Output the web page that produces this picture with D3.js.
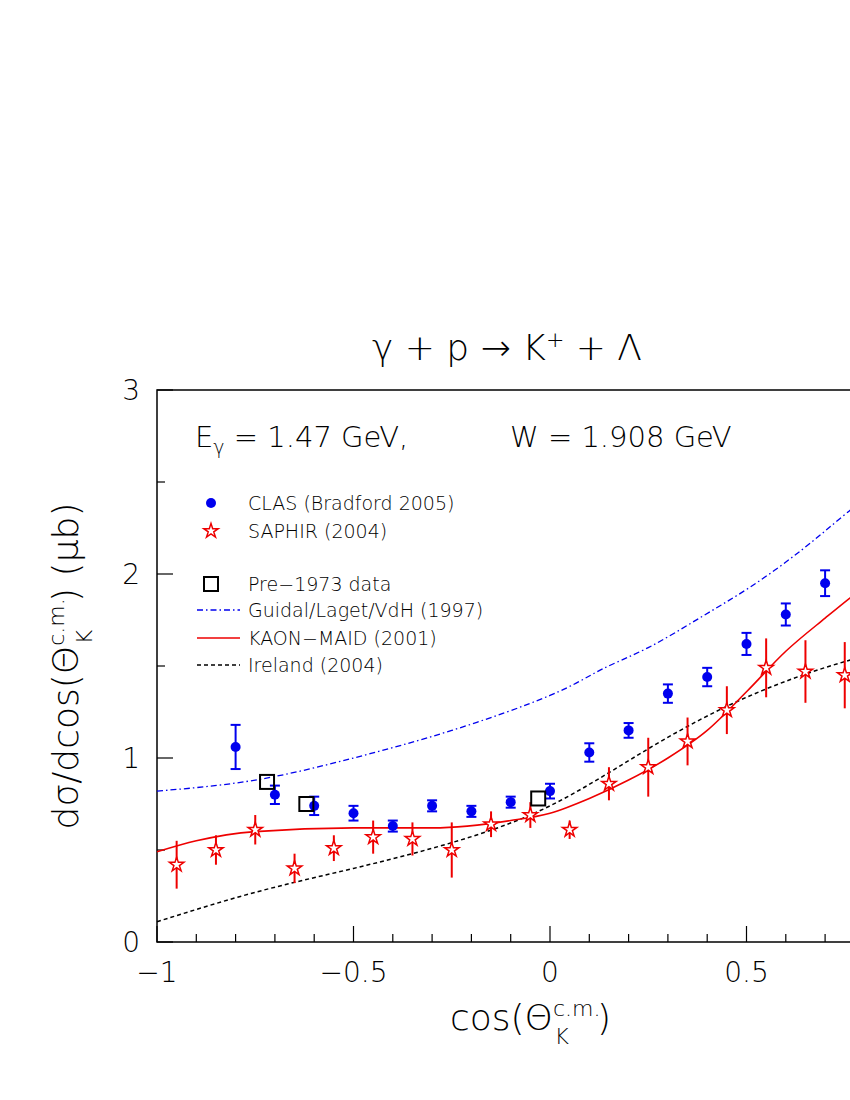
<!DOCTYPE html>
<html><head><meta charset="utf-8">
<script src="https://cdn.jsdelivr.net/npm/d3@7"></script>
<style>body{margin:0;background:#fff}text{font-family:"DejaVu Sans",sans-serif;font-weight:200}</style>
</head><body><svg id="c" width="850" height="1100"></svg>
<script>
const clasX=[-0.8,-0.7,-0.6,-0.5,-0.4,-0.3,-0.2,-0.1,0.0,0.1,0.2,0.3,0.4,0.5,0.6,0.7];
const clasY=[1.06,0.80,0.74,0.70,0.63,0.74,0.71,0.76,0.82,1.03,1.15,1.35,1.44,1.62,1.78,1.95];
const clasE=[0.12,0.05,0.05,0.04,0.03,0.03,0.03,0.03,0.04,0.05,0.04,0.05,0.05,0.06,0.06,0.07];
const saphX=[-0.95,-0.85,-0.75,-0.65,-0.55,-0.45,-0.35,-0.25,-0.15,-0.05,0.05,0.15,0.25,0.35,0.45,0.55,0.65,0.75];
const saphY=[0.42,0.50,0.61,0.40,0.51,0.57,0.56,0.50,0.64,0.69,0.61,0.86,0.95,1.09,1.26,1.49,1.47,1.45];
const saphE=[0.13,0.08,0.08,0.08,0.07,0.09,0.09,0.15,0.07,0.07,0.05,0.09,0.16,0.13,0.13,0.16,0.17,0.18];
const preX=[-0.72,-0.62,-0.03];
const preY=[0.87,0.75,0.78];
const guidX=[-1,-0.75,-0.5,-0.25,0,0.13,0.25,0.38,0.51,0.64,0.76,0.9];
const guidY=[0.82,0.88,1.0,1.15,1.34,1.48,1.60,1.76,1.93,2.13,2.34,2.58];
const maidX=[-1,-0.9,-0.75,-0.5,-0.3,-0.1,0,0.1,0.2,0.3,0.4,0.5,0.6,0.7,0.8,1];
const maidY=[0.49,0.55,0.6,0.62,0.62,0.66,0.70,0.78,0.88,1.0,1.15,1.36,1.58,1.76,1.93,2.2];
const irelX=[-1,-0.75,-0.5,-0.25,0,0.25,0.5,0.76,1];
const irelY=[0.11,0.27,0.40,0.54,0.74,1.05,1.33,1.53,1.65];
const xTicks=[-1,-0.5,0,0.5];
const yTicks=[0,1,2,3];

const svg=d3.select("#c");
const x=d3.scaleLinear().domain([-1,1]).range([157,943]);
const y=d3.scaleLinear().domain([0,3]).range([942,390]);
const g=svg.append("g");
g.append("rect").attr("x",157).attr("y",390).attr("width",786).attr("height",552).attr("fill","none").attr("stroke","#000").attr("stroke-width",1.5);
d3.range(-1,1.001,0.1).forEach(v=>{const L=Math.abs(v*2-Math.round(v*2))<1e-6?16:8;
 g.append("line").attr("x1",x(v)).attr("x2",x(v)).attr("y1",942).attr("y2",942-L).attr("stroke","#000").attr("stroke-width",1.2);});
d3.range(0,3.001,0.5).forEach(v=>{const L=Math.abs(v-Math.round(v))<1e-6?16:8;
 g.append("line").attr("x1",157).attr("x2",157+L).attr("y1",y(v)).attr("y2",y(v)).attr("stroke","#000").attr("stroke-width",1.2);});
xTicks.forEach(v=>g.append("text").attr("x",x(v)).attr("y",982).attr("text-anchor","middle").attr("font-size",28).text(v===0?"0":(v<0?"−"+Math.abs(v):v)));
yTicks.forEach(v=>g.append("text").attr("x",140).attr("y",y(v)+10).attr("text-anchor","end").attr("font-size",28).text(v));
const line=(X,Y)=>d3.line().curve(d3.curveNatural)(X.map((v,i)=>[x(v),y(Y[i])]));
const mline=(X,Y)=>d3.line().curve(d3.curveMonotoneX)(X.map((v,i)=>[x(v),y(Y[i])]));
g.append("path").attr("d",line(guidX,guidY)).attr("fill","none").attr("stroke","#0000ee").attr("stroke-width",1.3).attr("stroke-dasharray","6,3,1.5,3");
g.append("path").attr("d",line(irelX,irelY)).attr("fill","none").attr("stroke","#000").attr("stroke-width",1.5).attr("stroke-dasharray","4,3");
g.append("path").attr("d",mline(maidX,maidY)).attr("fill","none").attr("stroke","#ee0000").attr("stroke-width",1.6);
const star=d3.symbol().type(d3.symbolStar).size(65);
saphX.forEach((v,i)=>{g.append("line").attr("x1",x(v)).attr("x2",x(v)).attr("y1",y(saphY[i]-saphE[i])).attr("y2",y(saphY[i]+saphE[i])).attr("stroke","#ee0000").attr("stroke-width",2);
 g.append("path").attr("d",star()).attr("transform",`translate(${x(v)},${y(saphY[i])})`).attr("fill","#fff").attr("stroke","#ee0000").attr("stroke-width",1.5);});
clasX.forEach((v,i)=>{const a=y(clasY[i]-clasE[i]),b=y(clasY[i]+clasE[i]);
 g.append("line").attr("x1",x(v)).attr("x2",x(v)).attr("y1",a).attr("y2",b).attr("stroke","#0000ee").attr("stroke-width",2);
 [a,b].forEach(t=>g.append("line").attr("x1",x(v)-5).attr("x2",x(v)+5).attr("y1",t).attr("y2",t).attr("stroke","#0000ee").attr("stroke-width",2));
 g.append("circle").attr("cx",x(v)).attr("cy",y(clasY[i])).attr("r",5).attr("fill","#0000ee");});
preX.forEach((v,i)=>g.append("rect").attr("x",x(v)-7).attr("y",y(preY[i])-7).attr("width",14).attr("height",14).attr("fill","none").attr("stroke","#000").attr("stroke-width",2));
const lg=[[503,"CLAS (Bradford 2005)","clas"],[531,"SAPHIR (2004)","saph"],[584,"Pre−1973 data","pre"],[610,"Guidal/Laget/VdH (1997)","guid"],[638,"KAON−MAID (2001)","maid"],[665,"Ireland (2004)","irel"]];
lg.forEach(([yy,t,k])=>{
 if(k==="clas")g.append("circle").attr("cx",211).attr("cy",yy).attr("r",5).attr("fill","#0000ee");
 if(k==="saph")g.append("path").attr("d",star()).attr("transform",`translate(211,${yy})`).attr("fill","#fff").attr("stroke","#ee0000").attr("stroke-width",1.5);
 if(k==="pre")g.append("rect").attr("x",204).attr("y",yy-7).attr("width",14).attr("height",14).attr("fill","none").attr("stroke","#000").attr("stroke-width",2);
 if(k==="guid")g.append("line").attr("x1",197).attr("x2",240).attr("y1",yy).attr("y2",yy).attr("stroke","#0000ee").attr("stroke-width",1.3).attr("stroke-dasharray","6,3,1.5,3");
 if(k==="maid")g.append("line").attr("x1",197).attr("x2",240).attr("y1",yy).attr("y2",yy).attr("stroke","#ee0000").attr("stroke-width",1.6);
 if(k==="irel")g.append("line").attr("x1",197).attr("x2",240).attr("y1",yy).attr("y2",yy).attr("stroke","#000").attr("stroke-width",1.5).attr("stroke-dasharray","4,3");
 g.append("text").attr("x",248).attr("y",yy+7).attr("font-size",19).text(t);});
const t1=g.append("text").attr("x",195).attr("y",447).attr("font-size",29);
t1.append("tspan").text("E");t1.append("tspan").attr("font-size",19).attr("dy",7).text("γ");
t1.append("tspan").attr("dy",-7).text(" = 1.47 GeV,");
g.append("text").attr("x",510).attr("y",447).attr("font-size",29).text("W = 1.908 GeV");
const tt=g.append("text").attr("x",507).attr("y",360).attr("text-anchor","middle").attr("font-size",36);
tt.append("tspan").text("γ + p → K");tt.append("tspan").attr("font-size",22).attr("dy",-13).text("+");tt.append("tspan").attr("dy",13).text(" + Λ");
const xl=g.append("text").attr("x",450).attr("y",1030).attr("font-size",36);
xl.append("tspan").text("cos(Θ");xl.append("tspan").attr("font-size",22).attr("dy",-14).text("c.m.");
xl.append("tspan").attr("font-size",22).attr("dx",-46).attr("dy",28).text("K");xl.append("tspan").attr("font-size",36).attr("dx",28).attr("dy",-14).text(")");
const yl=g.append("text").attr("transform","translate(78,666) rotate(-90)").attr("text-anchor","middle").attr("font-size",36);
yl.append("tspan").text("dσ/dcos(Θ");yl.append("tspan").attr("font-size",22).attr("dy",-14).text("c.m.");
yl.append("tspan").attr("font-size",22).attr("dx",-46).attr("dy",28).text("K");yl.append("tspan").attr("dx",28).attr("dy",-14).text(") (μb)");
</script></body></html>
